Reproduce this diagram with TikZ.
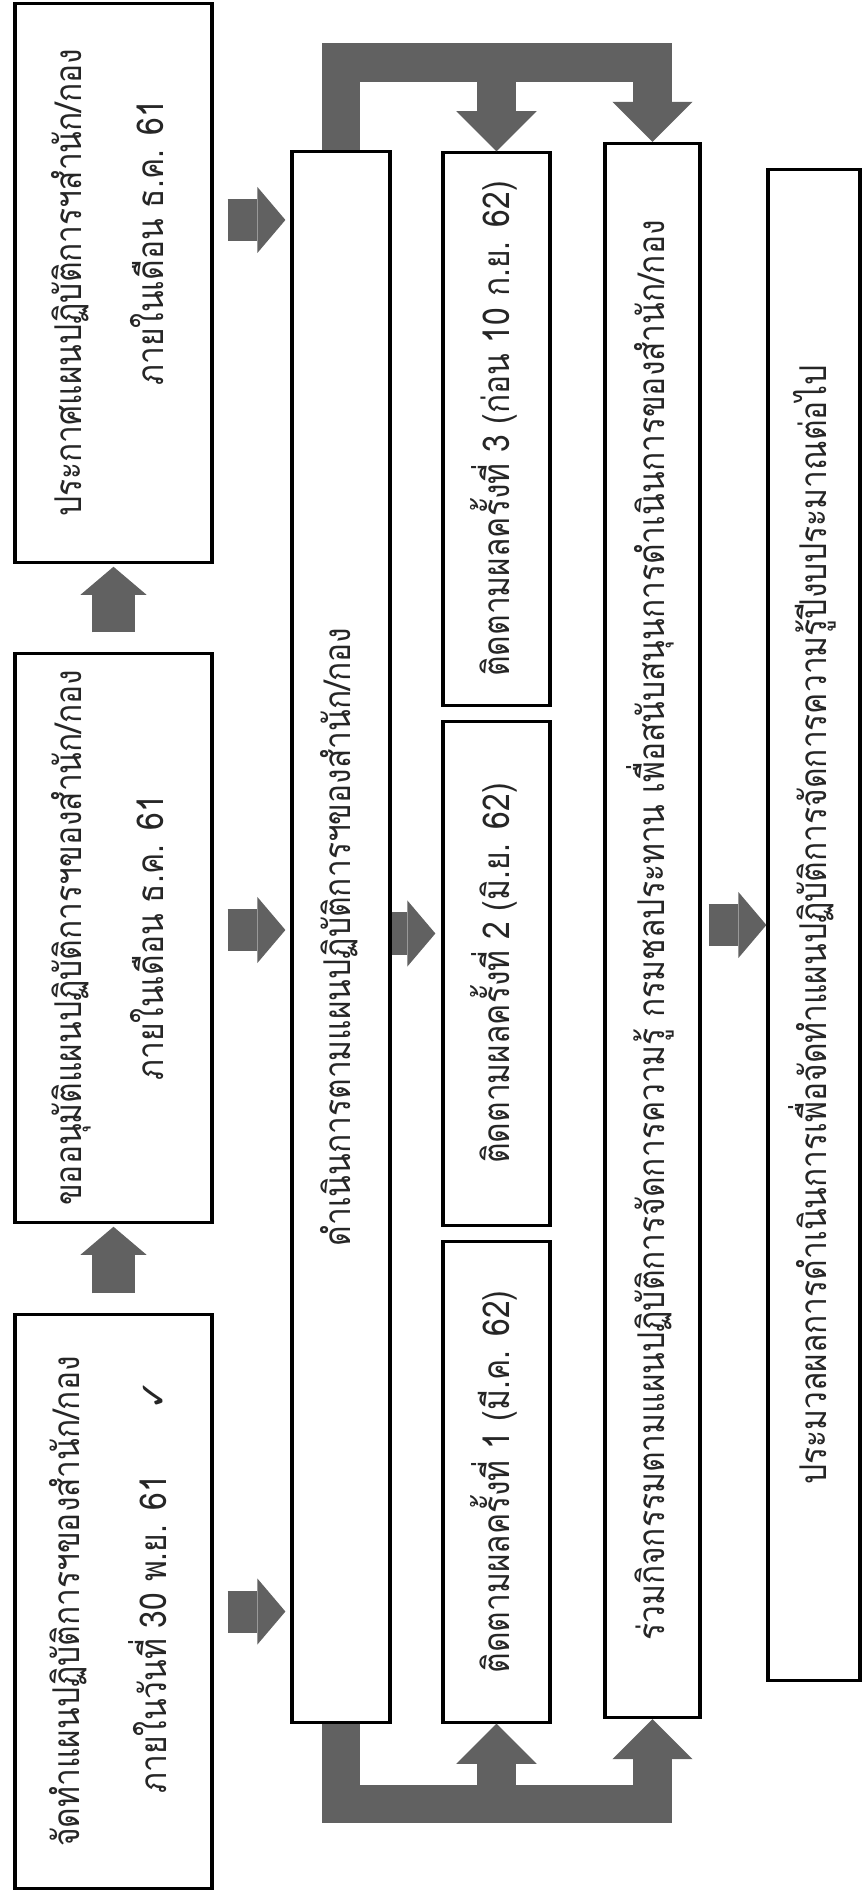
\documentclass[tikz,border=0pt]{standalone}
\usepackage{fontspec}
\newfontfamily\thaifont[Script=Thai,FakeStretch=0.86]{Loma}
\newfontfamily\tickfont{DejaVu Sans}
\usetikzlibrary{arrows.meta}

% text turned to read from bottom to top
\newcommand{\uptext}[1]{\rotatebox{90}{\begin{tabular}{@{}c@{}}#1\end{tabular}}}

\tikzset{
  stepbox/.style={
    rectangle, draw=black, line width=0.9pt, fill=white, inner sep=0pt,
    font=\thaifont\fontsize{10.5}{13}\selectfont, text=black!85
  },
  fatarrow/.style={
    draw=black!62, line width=0.42cm,
    -{Triangle[length=0.28cm, width=0.66cm, line width=0pt]}
  },
  bentarrow/.style={
    draw=black!62, line width=0.38cm, line join=miter,
    -{Triangle[length=0.4cm, width=0.8cm, line width=0pt]}
  }
}

\begin{document}
\begin{tikzpicture}[x=0.01cm, y=-0.01cm]
\useasboundingbox (0,0) rectangle (866,1896);

% Left column
\node[stepbox, minimum width=1.97cm, minimum height=5.58cm] (announce) at (113.5,283)
  {\uptext{ประกาศแผนปฏิบัติการฯสำนัก/กอง\\[10pt] \hspace*{0.8cm}ภายในเดือน ธ.ค. 61}};
\node[stepbox, minimum width=1.97cm, minimum height=5.68cm] (approve) at (113.5,938)
  {\uptext{ขออนุมัติแผนปฏิบัติการฯของสำนัก/กอง\\[10pt] ภายในเดือน ธ.ค. 61}};
\node[stepbox, minimum width=1.97cm, minimum height=5.73cm] (draft) at (113.5,1601.5)
  {\uptext{จัดทำแผนปฏิบัติการฯของสำนัก/กอง\\[10pt] \hspace*{0.3cm}ภายในวันที่ 30 พ.ย. 61\hspace{0.65cm}{\tickfont ✓}}};

% Middle columns
\node[stepbox, minimum width=0.98cm, minimum height=15.7cm] (execute) at (341,937)
  {\uptext{ดำเนินการตามแผนปฏิบัติการฯของสำนัก/กอง}};
\node[stepbox, minimum width=1.07cm, minimum height=5.52cm] (follow3) at (496.5,429)
  {\uptext{ติดตามผลครั้งที่ 3 (ก่อน 10 ก.ย. 62)}};
\node[stepbox, minimum width=1.07cm, minimum height=5.03cm] (follow2) at (496.5,973.5)
  {\uptext{ติดตามผลครั้งที่ 2 (มิ.ย. 62)}};
\node[stepbox, minimum width=1.07cm, minimum height=4.8cm] (follow1) at (496.5,1482)
  {\uptext{ติดตามผลครั้งที่ 1 (มี.ค. 62)}};
\node[stepbox, minimum width=0.95cm, minimum height=15.73cm] (joint) at (652.5,930.5)
  {\uptext{ร่วมกิจกรรมตามแผนปฏิบัติการจัดการความรู้ กรมชลประทาน เพื่อสนับสนุนการดำเนินการของสำนัก/กอง}};

% Right column
\node[stepbox, minimum width=0.92cm, minimum height=15.1cm] (evaluate) at (814,925)
  {\uptext{ประมวลผลการดำเนินการเพื่อจัดทำแผนปฏิบัติการจัดการความรู้ปีงบประมาณต่อไป}};

% Block arrows
\draw[fatarrow, shorten <=0.2cm, shorten >=0.03cm] (draft.north) -- (approve.south);
\draw[fatarrow, shorten <=0.2cm, shorten >=0.03cm] (approve.north) -- (announce.south);
\draw[fatarrow, shorten <=0.14cm, shorten >=0.05cm] ([yshift=-0.1cm]draft.east) -- ([yshift=-0.1cm]draft.east -| execute.west);
\draw[fatarrow, shorten <=0.14cm, shorten >=0.05cm] ([yshift=0.08cm]approve.east) -- ([yshift=0.08cm]approve.east -| execute.west);
\draw[fatarrow, shorten <=0.14cm, shorten >=0.05cm] ([yshift=0.63cm]announce.east) -- ([yshift=0.63cm]announce.east -| execute.west);
\draw[fatarrow, shorten >=0.06cm] ([yshift=0.4cm]follow2.west -| execute.east) -- ([yshift=0.4cm]follow2.west);
\draw[fatarrow, shorten <=0.07cm] (joint.east |- evaluate) -- (evaluate.west);

% Bent arrows
\coordinate (topbar) at (0,62.5);
\coordinate (botbar) at (0,1803.5);
\draw[bentarrow] (execute.north) -- (execute.north |- topbar) -| (joint.north);
\draw[bentarrow] (follow3.north |- topbar) -- (follow3.north);
\draw[bentarrow] (execute.south) -- (execute.south |- botbar) -| (joint.south);
\draw[bentarrow] (follow1.south |- botbar) -- (follow1.south);

\end{tikzpicture}
\end{document}
